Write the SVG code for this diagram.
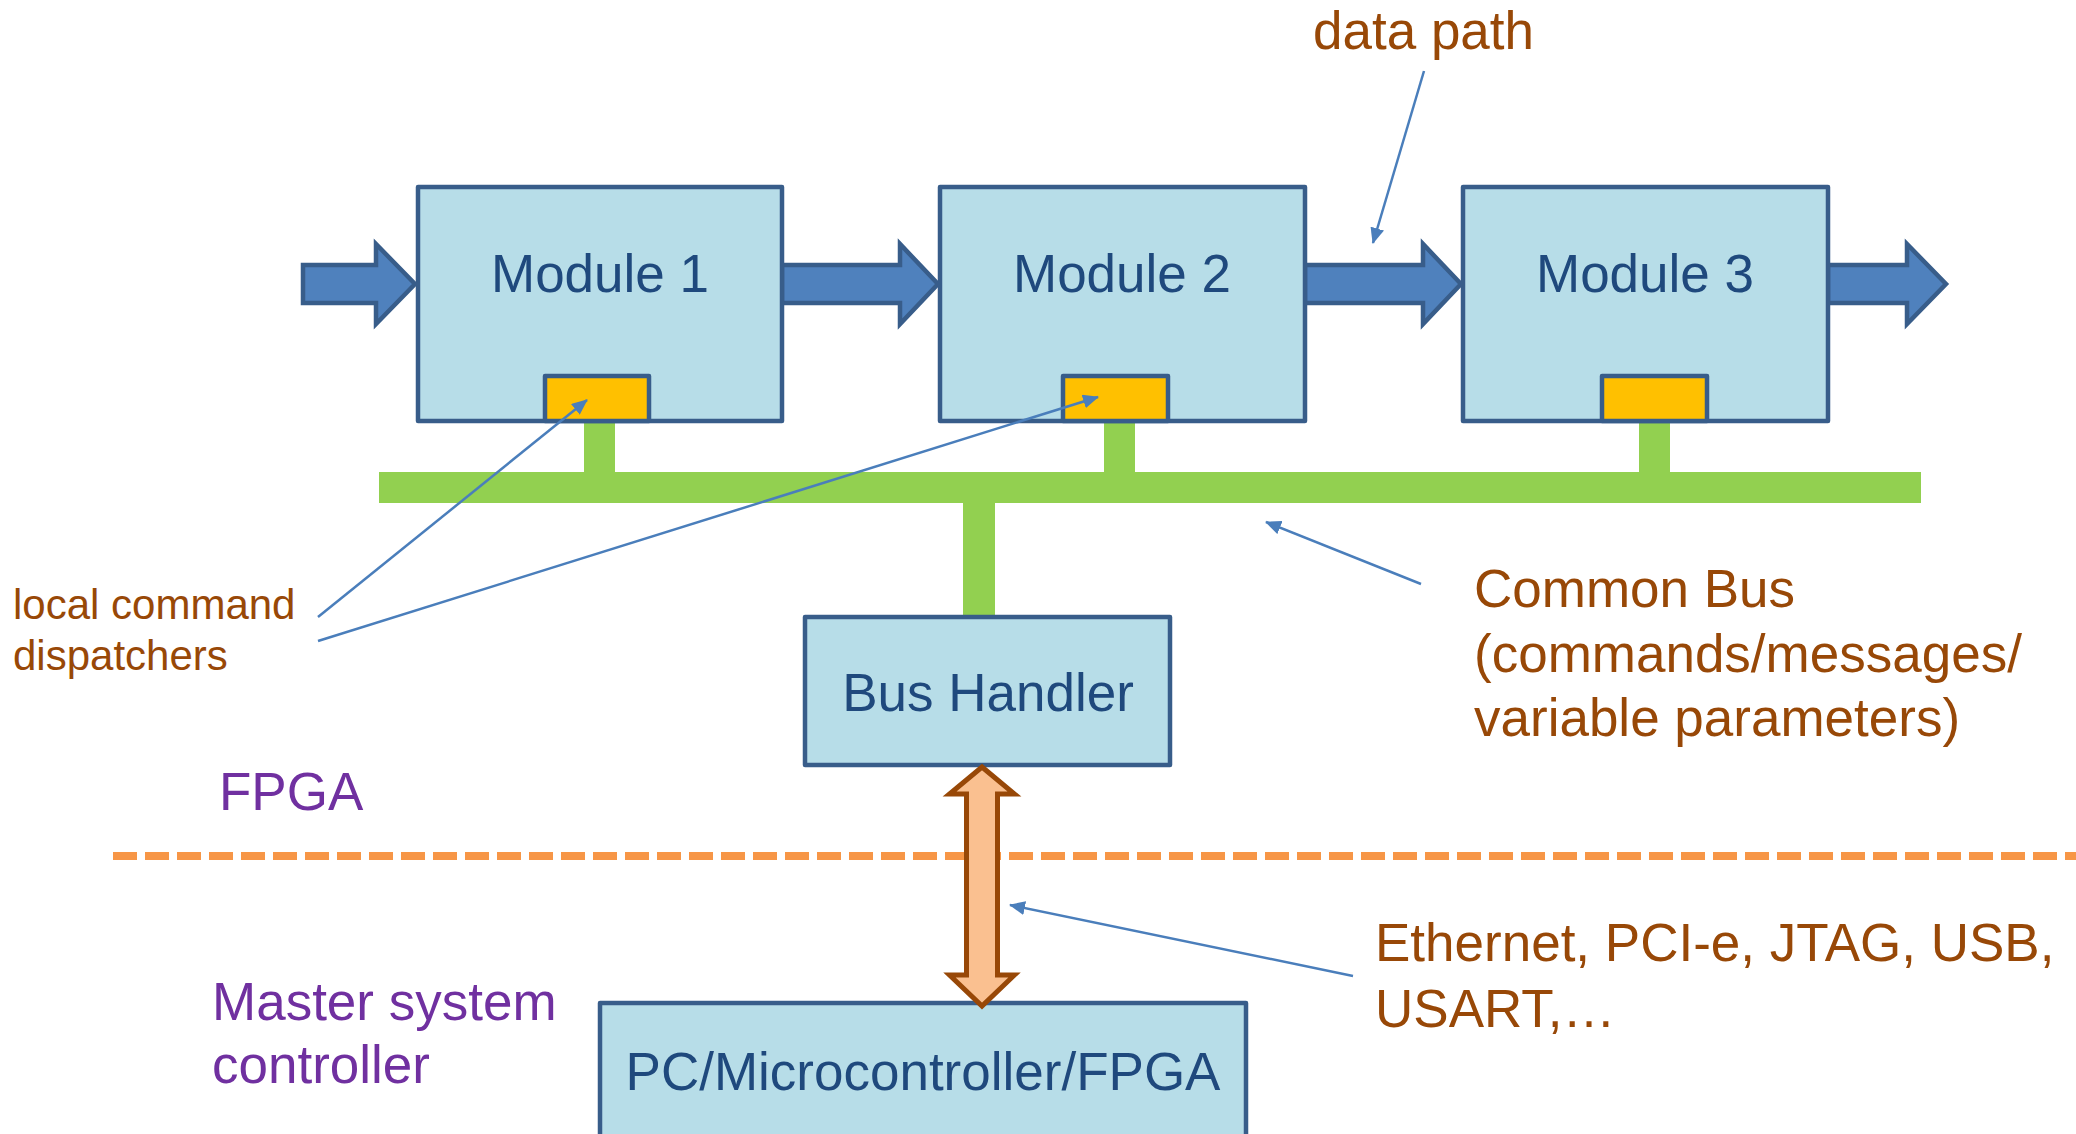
<svg xmlns="http://www.w3.org/2000/svg" width="2076" height="1134" viewBox="0 0 2076 1134">
<style>
.box{fill:#B7DDE8;stroke:#385D8A;stroke-width:4.5;stroke-linejoin:round}
.disp{fill:#FFC000;stroke:#385D8A;stroke-width:4.5;stroke-linejoin:round}
.dp{fill:#4F81BD;stroke:#385D8A;stroke-width:4.5;stroke-linejoin:miter}
.bus{fill:#92D050}
.lbl{font-family:"Liberation Sans",Arial,sans-serif;font-size:53px;fill:#1F497D;text-anchor:middle}
.ann{font-family:"Liberation Sans",Arial,sans-serif;font-size:53px;fill:#984807}
.small{font-size:42px}
.pur{font-family:"Liberation Sans",Arial,sans-serif;font-size:53px;fill:#7030A0}
.cl{stroke:#4A7EBB;stroke-width:2.5;fill:none;marker-end:url(#ah)}
</style>
<defs>
<marker id="ah" markerUnits="userSpaceOnUse" viewBox="0 0 16 14" markerWidth="16" markerHeight="14" refX="15" refY="7" orient="auto">
<path d="M0,0 L16,7 L0,14 z" fill="#4A7EBB"/>
</marker>
</defs>
<rect width="2076" height="1134" fill="#FFFFFF"/>

<g id="bus">
<rect class="bus" x="379" y="472" width="1542" height="31"/>
<rect class="bus" x="584" y="421" width="31" height="52"/>
<rect class="bus" x="1104" y="421" width="31" height="52"/>
<rect class="bus" x="1639" y="421" width="31" height="52"/>
<rect class="bus" x="963" y="502" width="32" height="115"/>
</g>

<g id="datapath">
<polygon class="dp" points="303,265 376,265 376,244 415,284 376,324 376,303 303,303"/>
<polygon class="dp" points="782,265 900,265 900,244 938,284 900,324 900,303 782,303"/>
<polygon class="dp" points="1305,265 1423,265 1423,244 1461,284 1423,324 1423,303 1305,303"/>
<polygon class="dp" points="1828,265 1907,265 1907,244 1946,284 1907,324 1907,303 1828,303"/>
</g>

<g id="module1">
<rect class="box" x="418" y="187" width="364" height="234"/>
<rect class="disp" x="545" y="376" width="104" height="45"/>
<text class="lbl" x="600" y="292">Module 1</text>
</g>
<g id="module2">
<rect class="box" x="940" y="187" width="365" height="234"/>
<rect class="disp" x="1063" y="376" width="105" height="45"/>
<text class="lbl" x="1122" y="292">Module 2</text>
</g>
<g id="module3">
<rect class="box" x="1463" y="187" width="365" height="234"/>
<rect class="disp" x="1602" y="376" width="105" height="45"/>
<text class="lbl" x="1645" y="292">Module 3</text>
</g>

<g id="bushandler">
<rect class="box" x="805" y="617" width="365" height="148"/>
<text class="lbl" x="988" y="711">Bus Handler</text>
</g>

<g id="pc">
<rect class="box" x="600" y="1003" width="646" height="140"/>
<text class="lbl" x="923" y="1090">PC/Microcontroller/FPGA</text>
</g>

<line id="boundary" x1="113" y1="856" x2="2076" y2="856" stroke="#F79646" stroke-width="8" stroke-dasharray="24 8"/>

<g id="connectors">
<polygon id="link" points="982,767 1014.5,794 997.5,794 997.5,975 1014.5,975 982,1006 949.5,975 966.5,975 966.5,794 949.5,794" fill="#FAC090" stroke="#984807" stroke-width="5" stroke-linejoin="miter"/>
<line class="cl" x1="1424" y1="71" x2="1373" y2="243"/>
<line class="cl" x1="318" y1="617" x2="587" y2="400"/>
<line class="cl" x1="318" y1="641" x2="1098" y2="397"/>
<line class="cl" x1="1421" y1="584" x2="1266" y2="522"/>
<line class="cl" x1="1353" y1="976" x2="1010" y2="905"/>
</g>

<g id="labels">
<text class="ann" x="1313" y="49">data path</text>
<text class="ann small" x="13"><tspan x="13" y="619">local command</tspan><tspan x="13" y="670">dispatchers</tspan></text>
<text class="ann" x="1474"><tspan x="1474" y="607">Common Bus</tspan><tspan x="1474" y="672">(commands/messages/</tspan><tspan x="1474" y="736">variable parameters)</tspan></text>
<text class="ann" x="1375"><tspan x="1375" y="961">Ethernet, PCI-e, JTAG, USB,</tspan><tspan x="1375" y="1027">USART,…</tspan></text>
<text class="pur" x="219" y="810">FPGA</text>
<text class="pur" x="212"><tspan x="212" y="1020">Master system</tspan><tspan x="212" y="1083">controller</tspan></text>
</g>
</svg>
